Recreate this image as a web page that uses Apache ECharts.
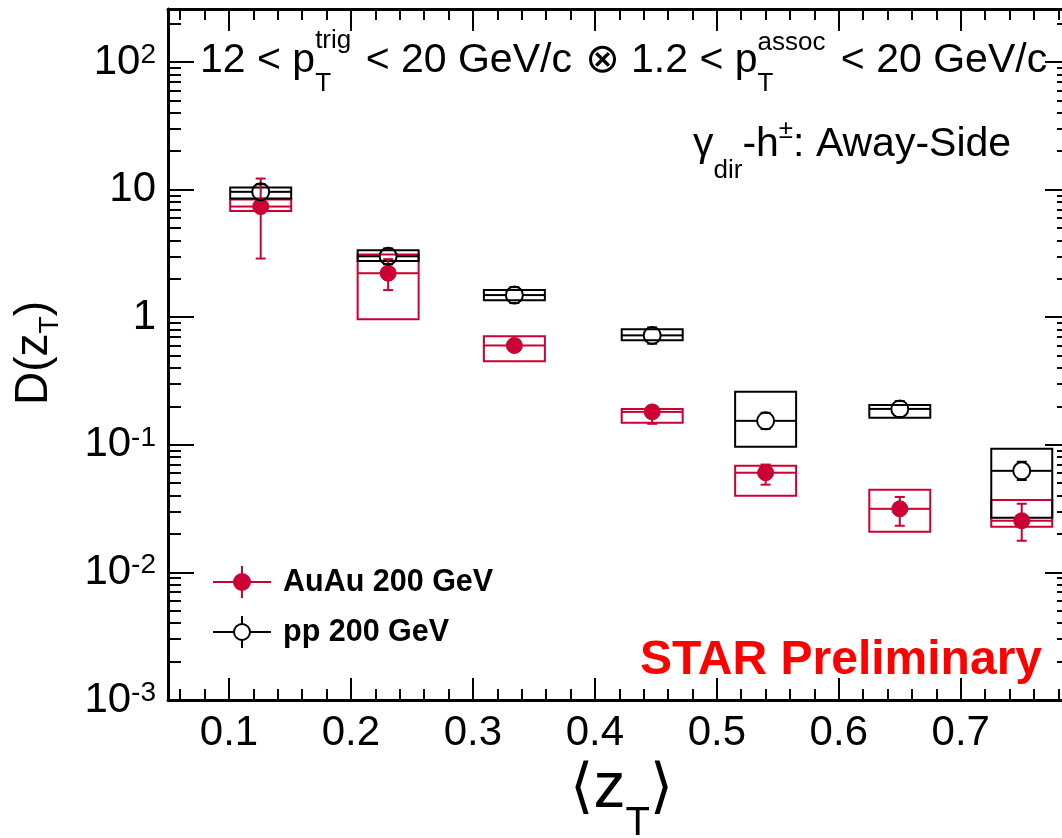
<!DOCTYPE html>
<html>
<head>
<meta charset="utf-8">
<script src="https://cdn.jsdelivr.net/npm/echarts@6/dist/echarts.min.js"></script>
<style>
  html, body { margin: 0; padding: 0; background: #ffffff; }
  #chart { width: 1062px; height: 838px; }
</style>
</head>
<body>
<div id="chart"></div>
<script>
// ---- measured values: gamma_dir-hadron away-side D(zT) ----
// <zT> bin centres and half widths of the systematic boxes
const zT          = [0.126, 0.2305, 0.334, 0.447, 0.540, 0.650, 0.750];
const zTHalfWidth = [0.025, 0.025, 0.025, 0.025, 0.025, 0.025, 0.025];

// Au+Au 200 GeV
const auauD      = [7.36, 2.21, 0.60, 0.181, 0.0604, 0.0315, 0.0254];
const auauStatLo = [2.88, 1.63, 0.57, 0.146, 0.0487, 0.0232, 0.0177];
const auauStatHi = [12.2, 2.85, 0.63, 0.200, 0.0700, 0.0390, 0.0345];
const auauSysLo  = [6.80, 0.965, 0.452, 0.149, 0.0399, 0.0208, 0.0228];
const auauSysHi  = [8.35, 3.10, 0.71, 0.191, 0.0684, 0.0444, 0.0370];

// p+p 200 GeV
const ppD      = [9.60, 3.00, 1.49, 0.72, 0.154, 0.191, 0.0625];
const ppStatLo = [8.30, 2.60, 1.29, 0.62, 0.133, 0.165, 0.0530];
const ppStatHi = [11.0, 3.45, 1.72, 0.83, 0.178, 0.220, 0.0736];
const ppSysLo  = [8.50, 2.75, 1.36, 0.66, 0.0965, 0.163, 0.0268];
const ppSysHi  = [10.4, 3.35, 1.63, 0.805, 0.26, 0.205, 0.093];

// axis ranges and ticks
const xRange = [0.05, 0.783];
const xMajorTicks = [0.1, 0.2, 0.3, 0.4, 0.5, 0.6, 0.7];
const xMinorTicks = [0.06, 0.08, 0.12, 0.14, 0.16, 0.18, 0.22, 0.24, 0.26, 0.28,
                     0.32, 0.34, 0.36, 0.38, 0.42, 0.44, 0.46, 0.48, 0.52, 0.54, 0.56, 0.58,
                     0.62, 0.64, 0.66, 0.68, 0.72, 0.74, 0.76, 0.78];
const yRange = [0.001, 260];
const yDecades = [0.001, 0.01, 0.1, 1, 10, 100];

// ---- styling ----
const FONT = "'Liberation Sans', 'DejaVu Sans', sans-serif";
const RED = '#cc0033';
const BLACK = '#000000';

// log-space positions of the 2..9 minor ticks of each decade
const yMinorLog = [];
yDecades.forEach(function (d) {
  for (let k = 2; k <= 9; k++) {
    const v = k * d;
    if (v < yRange[1]) yMinorLog.push(Math.log10(v));
  }
});
const yLogRange = [Math.log10(yRange[0]), Math.log10(yRange[1])];

function rows(d, lo, hi, sLo, sHi) {
  return zT.map(function (x, i) {
    return [x, d[i], lo[i], hi[i], sLo[i], sHi[i], zTHalfWidth[i]];
  });
}
const auauRows = rows(auauD, auauStatLo, auauStatHi, auauSysLo, auauSysHi);
const ppRows = rows(ppD, ppStatLo, ppStatHi, ppSysLo, ppSysHi);

// systematic-uncertainty boxes
function boxRenderer(color) {
  return function (params, api) {
    const x = api.value(0), ex = api.value(6);
    const p1 = api.coord([x - ex, api.value(5)]);
    const p2 = api.coord([x + ex, api.value(4)]);
    return {
      type: 'rect',
      shape: { x: p1[0], y: p1[1], width: p2[0] - p1[0], height: p2[1] - p1[1] },
      style: { fill: 'none', stroke: color, lineWidth: 2 }
    };
  };
}

// statistical error bars (vertical, capped) and bin-width bar (horizontal),
// both left open where the marker sits
function errRenderer(color, r) {
  return function (params, api) {
    const x = api.value(0), y = api.value(1), ex = api.value(6);
    const c = api.coord([x, y]);
    const pLo = api.coord([x, api.value(2)]);
    const pHi = api.coord([x, api.value(3)]);
    const pL = api.coord([x - ex, y]);
    const pR = api.coord([x + ex, y]);
    const st = { stroke: color, lineWidth: 2 };
    const seg = function (x1, y1, x2, y2) {
      return { type: 'line', shape: { x1: x1, y1: y1, x2: x2, y2: y2 }, style: st };
    };
    const kids = [];
    if (pL[0] < c[0] - r) kids.push(seg(pL[0], c[1], c[0] - r, c[1]));
    if (pR[0] > c[0] + r) kids.push(seg(c[0] + r, c[1], pR[0], c[1]));
    if (pHi[1] < c[1] - r) kids.push(seg(c[0], pHi[1], c[0], c[1] - r));
    if (pLo[1] > c[1] + r) kids.push(seg(c[0], c[1] + r, c[0], pLo[1]));
    kids.push(seg(c[0] - 5, pHi[1], c[0] + 5, pHi[1]));
    kids.push(seg(c[0] - 5, pLo[1], c[0] + 5, pLo[1]));
    return { type: 'group', children: kids };
  };
}

// ---- text layout helpers (sub/superscripts) ----
const mctx = document.createElement('canvas').getContext('2d');
function fontOf(p) { return (p.b ? 'bold ' : '') + p.s + 'px ' + FONT; }
function textRun(pieces, color) {
  let x = 0, stackStart = 0, stackW = 0;
  const out = [];
  pieces.forEach(function (p) {
    mctx.font = fontOf(p);
    const w = mctx.measureText(p.t).width;
    let px;
    if (p.stack) {
      px = stackStart;
      stackW = Math.max(stackW, w);
      x = stackStart + stackW;
    } else {
      x += (p.pre || 0);
      px = x;
      stackStart = x;
      stackW = w;
      x += w;
    }
    out.push({
      type: 'text', x: px, y: p.dy || 0, silent: true,
      style: {
        text: p.t, font: fontOf(p), fill: p.c || color || BLACK,
        align: 'left', verticalAlign: 'middle',
        textAlign: 'left', textVerticalAlign: 'middle'
      }
    });
  });
  return out;
}

const headerText = textRun([
  { t: '12 < p', s: 41 },
  { t: 'T', s: 26, dy: 23 },
  { t: 'trig', s: 26, dy: -20, stack: true },
  { t: ' < 20 GeV/c ', s: 41, pre: 3 },
  { t: '\u2297', s: 41, pre: 2 },
  { t: ' 1.2 < p', s: 41 },
  { t: 'T', s: 26, dy: 23 },
  { t: 'assoc', s: 26, dy: -18, stack: true },
  { t: ' < 20 GeV/c', s: 41, pre: 4 }
]);

const channelText = textRun([
  { t: '\u03b3', s: 41 },
  { t: 'dir', s: 26, dy: 26 },
  { t: '-h', s: 41 },
  { t: '\u00b1', s: 26, dy: -14 },
  { t: ': Away-Side', s: 41 }
]);

const xTitleText = textRun([
  { t: '\u27e8', s: 60 },
  { t: 'z', s: 64 },
  { t: 'T', s: 40, dy: 35 },
  { t: '\u27e9', s: 60 }
]);

const yTitleText = textRun([
  { t: 'D(z', s: 46 },
  { t: 'T', s: 28, dy: 16 },
  { t: ')', s: 46 }
]);

function legendEntry(y, color, filled, label) {
  const st = { stroke: color, lineWidth: 2 };
  return [
    { type: 'line', shape: { x1: 213, y1: y, x2: 271, y2: y }, style: st, silent: true },
    { type: 'line', shape: { x1: 242, y1: y - 16, x2: 242, y2: y + 16 }, style: st, silent: true },
    { type: 'circle', shape: { cx: 242, cy: y, r: 8 },
      style: { fill: filled ? color : '#ffffff', stroke: color, lineWidth: 2 }, silent: true },
    { type: 'text', x: 283, y: y + 1, silent: true,
      style: { text: label, font: 'bold 30.5px ' + FONT, fill: BLACK,
               align: 'left', verticalAlign: 'middle', textAlign: 'left', textVerticalAlign: 'middle' } }
  ];
}

function xAxisDef(position, ticks, len, withLine, withLabels) {
  return {
    type: 'value', position: position, min: xRange[0], max: xRange[1],
    axisLine: { show: withLine, onZero: false, lineStyle: { color: BLACK, width: 3 } },
    axisTick: { show: true, inside: true, length: len, customValues: ticks,
                lineStyle: { color: BLACK, width: 2 } },
    axisLabel: withLabels ? {
      show: true, customValues: ticks, margin: 12, color: BLACK,
      fontSize: 42, fontFamily: FONT,
      formatter: function (v) { return v.toFixed(1); }
    } : { show: false },
    splitLine: { show: false }
  };
}

// the right-hand frame sits just beyond the canvas edge, so only the
// inner ends of its ticks are drawn
function yLogAxisDef(position, withLabels, showLine, len) {
  return {
    type: 'log', logBase: 10, position: position, min: yRange[0], max: yRange[1],
    axisLine: { show: showLine, onZero: false, lineStyle: { color: BLACK, width: 3 } },
    axisTick: { show: true, inside: true, length: len, lineStyle: { color: BLACK, width: 2 } },
    minorTick: { show: false },
    axisLabel: withLabels ? {
      show: true, margin: 12, color: BLACK, fontSize: 42, fontFamily: FONT,
      showMaxLabel: false,
      formatter: function (v) {
        const l = Math.log10(v), e = Math.round(l);
        if (Math.abs(l - e) > 1e-6) return '';
        if (e === 0) return '1';
        if (e === 1) return '10';
        return '10{sup|' + e + '}';
      },
      rich: {
        sup: { fontSize: 28, fontFamily: FONT, color: BLACK, verticalAlign: 'top', lineHeight: 28 }
      }
    } : { show: false },
    splitLine: { show: false }
  };
}

function yMinorAxisDef(position, len) {
  return {
    type: 'value', position: position, min: yLogRange[0], max: yLogRange[1],
    axisLine: { show: false, onZero: false },
    axisTick: { show: true, inside: true, length: len, customValues: yMinorLog,
                lineStyle: { color: BLACK, width: 2 } },
    axisLabel: { show: false },
    splitLine: { show: false }
  };
}

const chart = echarts.init(document.getElementById('chart'), null, { renderer: 'canvas' });
chart.setOption({
  backgroundColor: '#ffffff',
  animation: false,
  grid: { left: 168, right: 0, top: 9, bottom: 138, containLabel: false },
  xAxis: [
    xAxisDef('bottom', xMajorTicks, 22, true, true),
    xAxisDef('bottom', xMinorTicks, 11, false, false),
    xAxisDef('top', xMajorTicks, 22, true, false),
    xAxisDef('top', xMinorTicks, 11, false, false)
  ],
  yAxis: [
    yLogAxisDef('left', true, true, 26),
    yMinorAxisDef('left', 13),
    yLogAxisDef('right', false, false, 17),
    yMinorAxisDef('right', 5)
  ],
  series: [
    { type: 'custom', name: 'AuAu sys', z: 2, xAxisIndex: 0, yAxisIndex: 0,
      renderItem: boxRenderer(RED), data: auauRows, encode: { x: 0, y: 1 } },
    { type: 'custom', name: 'pp sys', z: 3, xAxisIndex: 0, yAxisIndex: 0,
      renderItem: boxRenderer(BLACK), data: ppRows, encode: { x: 0, y: 1 } },
    { type: 'custom', name: 'AuAu stat', z: 4, xAxisIndex: 0, yAxisIndex: 0,
      renderItem: errRenderer(RED, 7), data: auauRows, encode: { x: 0, y: 1 } },
    { type: 'custom', name: 'pp stat', z: 4, xAxisIndex: 0, yAxisIndex: 0,
      renderItem: errRenderer(BLACK, 8.5), data: ppRows, encode: { x: 0, y: 1 } },
    { type: 'scatter', name: 'AuAu 200 GeV', z: 5, xAxisIndex: 0, yAxisIndex: 0,
      symbol: 'circle', symbolSize: 16,
      itemStyle: { color: RED, borderColor: RED, borderWidth: 1, opacity: 1 },
      data: auauRows.map(function (r) { return [r[0], r[1]]; }) },
    { type: 'scatter', name: 'pp 200 GeV', z: 6, xAxisIndex: 0, yAxisIndex: 0,
      symbol: 'circle', symbolSize: 17,
      itemStyle: { color: 'rgba(0,0,0,0)', borderColor: BLACK, borderWidth: 2, opacity: 1 },
      data: ppRows.map(function (r) { return [r[0], r[1]]; }) }
  ],
  graphic: [
    { type: 'group', x: 200, y: 61, children: headerText },
    { type: 'group', x: 693, y: 145, children: channelText },
    { type: 'group', x: 0, y: 0, children: legendEntry(582, RED, true, 'AuAu 200 GeV') },
    { type: 'group', x: 0, y: 0, children: legendEntry(632, BLACK, false, 'pp 200 GeV') },
    { type: 'text', x: 1042, y: 661, silent: true,
      style: { text: 'STAR Preliminary', font: 'bold 48px ' + FONT, fill: '#ff0000',
               align: 'right', verticalAlign: 'middle', textAlign: 'right', textVerticalAlign: 'middle' } },
    { type: 'group', x: 570, y: 789, children: xTitleText },
    { type: 'group', x: 34, y: 405, rotation: Math.PI / 2, children: yTitleText }
  ]
});
</script>
</body>
</html>
